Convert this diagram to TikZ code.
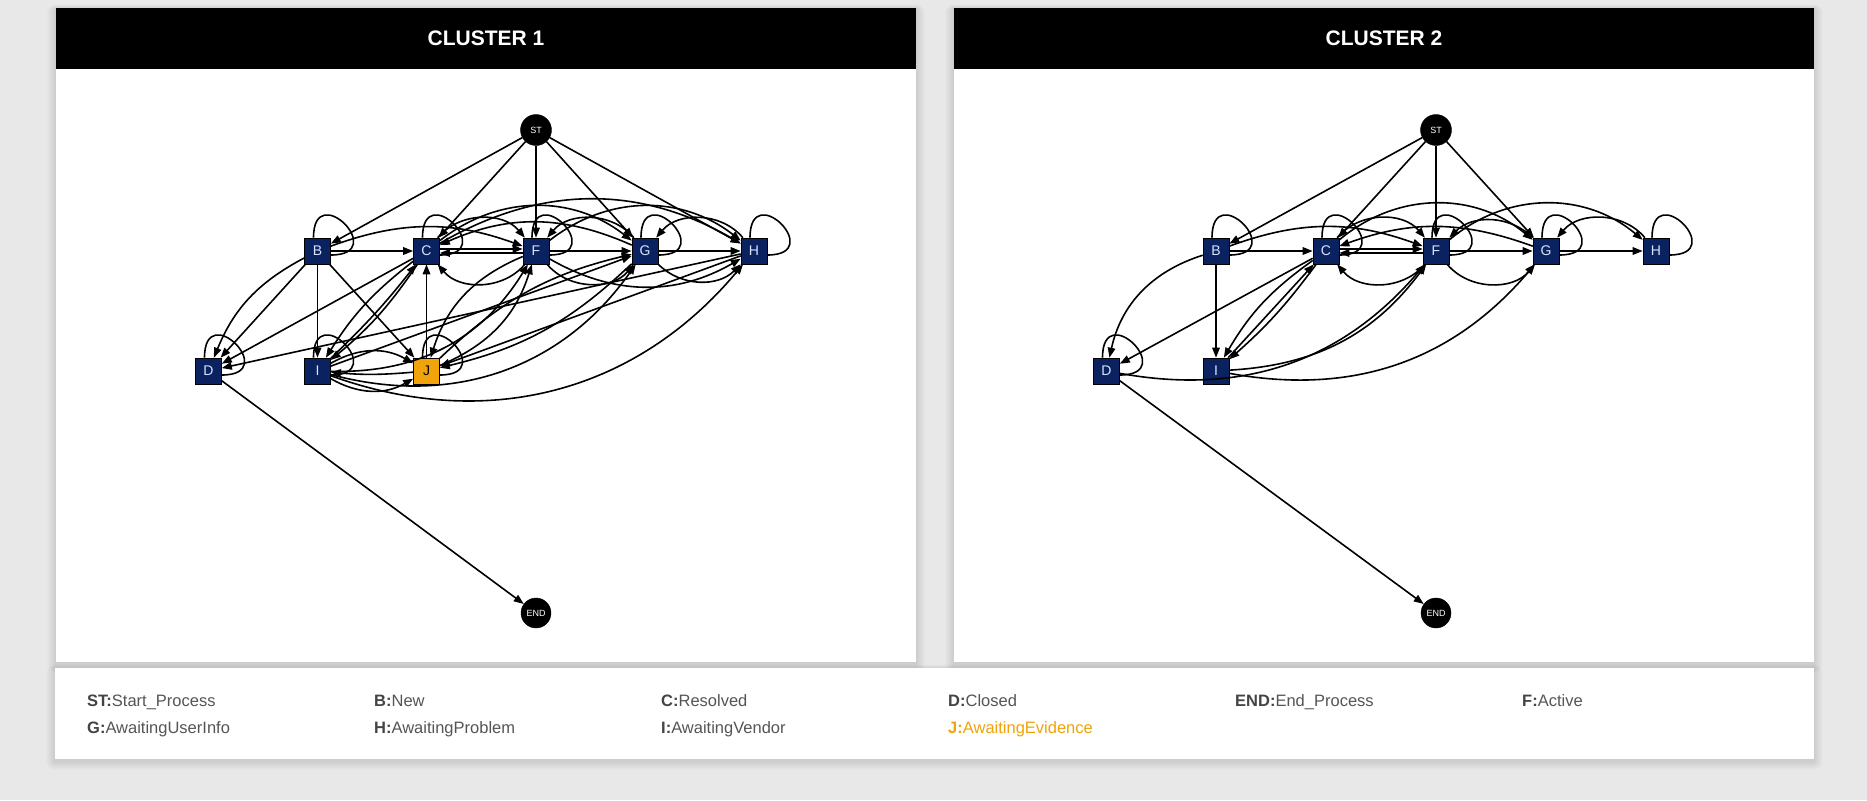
\documentclass[tikz,border=0pt]{standalone}
\usepackage{fontspec}
\setmainfont{Liberation Sans}
\usetikzlibrary{arrows.meta}
\definecolor{bg}{HTML}{E8E8E8}
\definecolor{navy}{HTML}{0B2260}
\definecolor{jorange}{HTML}{F0A30A}
\definecolor{legtext}{HTML}{555555}
\definecolor{legbold}{HTML}{444444}
\definecolor{nodetxt}{HTML}{D8E4FF}
\newcommand\myloop[1]{\draw[lp] ([xshift=-4pt]#1.north) .. controls +(0,60) and +(60,0) .. ([yshift=-4pt]#1.east);}
\begin{document}
\begin{tikzpicture}[x=1pt,y=1pt,
  box/.style={rectangle,draw=black,line width=0.6pt,fill=navy,minimum size=26pt,inner sep=0pt,text=nodetxt,font=\fontsize{14}{14}\selectfont},
  jbox/.style={box,fill=jorange,text=black},
  term/.style={circle,fill=black,draw=black,minimum size=31pt,inner sep=0pt,text=white,font=\fontsize{9}{9}\selectfont},
  e/.style={line width=1.6pt,-{Triangle[length=10pt,width=7.5pt]}},
  lp/.style={line width=1.6pt},
  panel/.style={fill=white,draw=none},
  header/.style={fill=black,draw=none},
  htext/.style={text=white,font=\fontsize{21}{21}\selectfont\bfseries},
  leg/.style={anchor=base west,inner sep=0pt,text=legtext,font=\fontsize{16.5}{16.5}\selectfont},
  shadow/.style={fill=black,opacity=0.013,draw=none}]
% background
\fill[bg] (0,0) rectangle (1867,-800);
\useasboundingbox (0,0) rectangle (1867,-800);
% soft shadows
\foreach \d in {1,2,...,9}{
  \fill[shadow,rounded corners=\d pt] (56-\d,-8+0.5*\d-1) rectangle (916+\d,-662-\d-2);
  \fill[shadow,rounded corners=\d pt] (954-\d,-8+0.5*\d-1) rectangle (1814+\d,-662-\d-2);
  \fill[shadow,rounded corners=\d pt] (55-\d,-668+0.5*\d-1) rectangle (1814+\d,-759-\d-2);
}
% panels
\fill[panel] (56,-8) rectangle (916,-662);
\fill[header] (56,-8) rectangle (916,-69);
\node[htext] (h1) at (486,-38.5) {CLUSTER 1};
\fill[panel] (954,-8) rectangle (1814,-662);
\fill[header] (954,-8) rectangle (1814,-69);
\node[htext] (h2) at (1384,-38.5) {CLUSTER 2};
\fill[panel] (55,-668) rectangle (1814,-759);

% ---------------- cluster 1 ----------------
\node[term] (pST) at (536,-130) {ST};
\node[box] (pB) at (317.5,-251) {B};
\node[box] (pC) at (426.5,-251) {C};
\node[box] (pF) at (536,-251) {F};
\node[box] (pG) at (645,-251) {G};
\node[box] (pH) at (754,-251) {H};
\node[box] (pD) at (208.5,-371) {D};
\node[box] (pI) at (317.5,-371) {I};
\node[jbox] (pJ) at (426.5,-371) {J};
\node[term,minimum size=30pt] (pEND) at (536,-613) {END};

\myloop{pB}\myloop{pC}\myloop{pF}\myloop{pG}\myloop{pH}\myloop{pD}\myloop{pI}\myloop{pJ}

\draw[e] (pST) -- (pB);
\draw[e] (pST) -- (pC);
\draw[e] (pST) -- (pF);
\draw[e] (pST) -- (pG);
\draw[e] (pST) -- (pH);
\draw[e] (pB) -- (pC);
\draw[e] (pB) -- (pI);
\draw[e] (pB) -- (pJ);
\draw[e] (pB) -- (pD);
\draw[e] (pB) to[bend right=20] (pD);
\draw[e] (pB) to[bend left=20] (pF);
\draw[e] ([yshift=2pt]pC.east) -- ([yshift=2pt]pF.west);
\draw[e] ([yshift=-2pt]pF.west) -- ([yshift=-2pt]pC.east);
\draw[e] (pC) to[bend left=50] (pF);
\draw[e] (pF) to[bend left=50] (pC);
\draw[e] (pC) to[bend left=38] (pG);
\draw[e] (pG) to[bend right=24] (pC);
\draw[e] (pC) to[bend left=30] (pH);
\draw[e] (pF) -- (pG);
\draw[e] (pF) to[bend right=50] (pG);
\draw[e] (pG) to[bend right=50] (pF);
\draw[e] (pF) to[bend left=38] (pH);
\draw[e] (pF) to[bend right=30] (pH);
\draw[e] (pG) -- (pH);
\draw[e] (pG) to[bend right=45] (pH);
\draw[e] (pH) to[bend right=50] (pG);
\draw[e] (pJ) -- (pC);
\draw[e] (pC) -- (pD);
\draw[e] (pH) -- (pD);
\draw[e] (pC) to[bend right=10] (pI);
\draw[e] (pI) to[bend right=4] (pC);
\draw[e] (pC) to[bend left=8] (pI);
\draw[e] (pF) to[bend right=25] (pJ);
\draw[e] (pJ) to[bend right=25] (pF);
\draw[e] (pG) to[bend left=15] (pJ);
\draw[e] (pJ) to[bend left=15] (pG);
\draw[e] (pH) -- (pJ);
\draw[e] (pI) to[bend left=30] (pJ);
\draw[e] (pI) to[bend right=30] (pJ);
\draw[e] (pJ) to[bend left=5] (pI);
\draw[e] (pI) to[bend right=30] (pF);
\draw[e] (pI) to[bend right=35] (pG);
\draw[e] (pI) to[bend right=35] (pH);
\draw[e] (pI) -- (pG);
\draw[e] (pD) -- (pEND);

% ---------------- cluster 2 ----------------
\node[term] (qST) at (1436,-130) {ST};
\node[box] (qB) at (1216,-251) {B};
\node[box] (qC) at (1326,-251) {C};
\node[box] (qF) at (1436,-251) {F};
\node[box] (qG) at (1546,-251) {G};
\node[box] (qH) at (1656,-251) {H};
\node[box] (qD) at (1106.5,-371) {D};
\node[box] (qI) at (1216,-371) {I};
\node[term,minimum size=30pt] (qEND) at (1436,-613) {END};

\myloop{qB}\myloop{qC}\myloop{qF}\myloop{qG}\myloop{qH}\myloop{qD}

\draw[e] (qST) -- (qB);
\draw[e] (qST) -- (qC);
\draw[e] (qST) -- (qF);
\draw[e] (qST) -- (qG);
\draw[e] (qB) -- (qC);
\draw[e] (qB) -- (qI);
\draw[e] (qB) to[bend right=30] (qD);
\draw[e] (qB) to[bend left=20] (qF);
\draw[e] ([yshift=2pt]qC.east) -- ([yshift=2pt]qF.west);
\draw[e] ([yshift=-2pt]qF.west) -- ([yshift=-2pt]qC.east);
\draw[e] (qC) to[bend left=50] (qF);
\draw[e] (qF) to[bend left=50] (qC);
\draw[e] (qC) to[bend left=40] (qG);
\draw[e] (qG) to[bend right=20] (qC);
\draw[e] (qF) to[bend left=40] (qH);
\draw[e] (qG) to[bend right=45] (qF);
\draw[e] (qH) to[bend right=50] (qG);
\draw[e] (qF) -- (qG);
\draw[e] (qF) to[bend right=50] (qG);
\draw[e] (qG) -- (qH);
\draw[e] (qC) -- (qD);
\draw[e] (qC) to[bend right=12] (qI);
\draw[e] (qI) -- (qC);
\draw[e] (qC) to[bend left=6] (qI);
\draw[e] (qI) to[bend right=25] (qF);
\draw[e] (qD) to[bend right=30] (qF);
\draw[e] (qI) to[bend right=30] (qG);
\draw[e] (qD) -- (qEND);

% ---------------- legend ----------------
\node[leg] (l1) at (87,-706) {{\color{legbold}\bfseries ST:}Start\_Process};
\node[leg] (l2) at (374,-706) {{\color{legbold}\bfseries B:}New};
\node[leg] (l3) at (661,-706) {{\color{legbold}\bfseries C:}Resolved};
\node[leg] (l4) at (948,-706) {{\color{legbold}\bfseries D:}Closed};
\node[leg] (l5) at (1235,-706) {{\color{legbold}\bfseries END:}End\_Process};
\node[leg] (l6) at (1522,-706) {{\color{legbold}\bfseries F:}Active};
\node[leg] (l7) at (87,-733) {{\color{legbold}\bfseries G:}AwaitingUserInfo};
\node[leg] (l8) at (374,-733) {{\color{legbold}\bfseries H:}AwaitingProblem};
\node[leg] (l9) at (661,-733) {{\color{legbold}\bfseries I:}AwaitingVendor};
\node[leg,text=jorange] (l10) at (948,-733) {{\bfseries J:}AwaitingEvidence};
\end{tikzpicture}
\end{document}
